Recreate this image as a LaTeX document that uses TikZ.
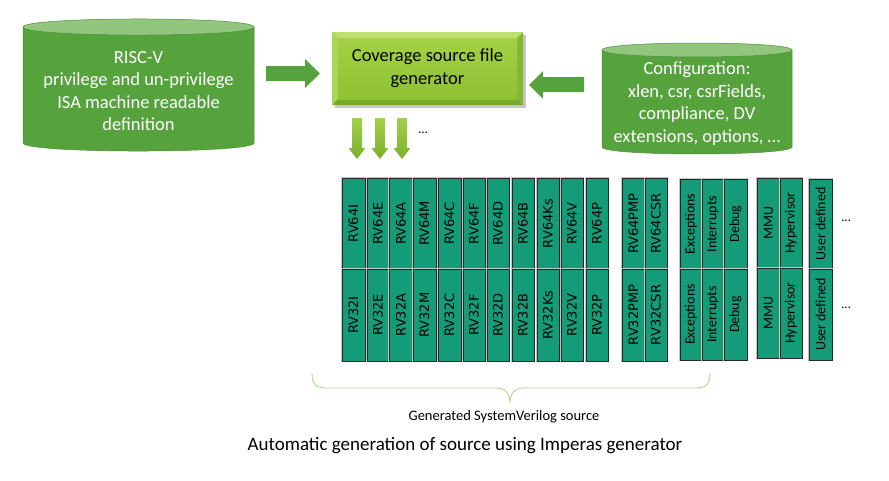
\documentclass[tikz,border=0pt]{standalone}
\usepackage{fontspec}
\setmainfont{Carlito}
\newfontfamily\dejavu{DejaVu Sans}
\definecolor{cylbody}{HTML}{56A33E}
\definecolor{cyltop}{HTML}{92C57E}
\definecolor{cyledge}{HTML}{4A9036}
\definecolor{arrgreen}{HTML}{56A33E}
\definecolor{teal}{HTML}{149C78}
\definecolor{bevtop}{HTML}{BFE070}
\definecolor{bevleft}{HTML}{AAD651}
\definecolor{bevbot}{HTML}{78A828}
\definecolor{bevright}{HTML}{86B632}
\definecolor{facetop}{HTML}{A4D145}
\definecolor{facebot}{HTML}{8EC133}
\definecolor{darrtop}{HTML}{A2D14A}
\definecolor{darrbot}{HTML}{7AAF2E}
\definecolor{bracec}{HTML}{A9D18E}
\tikzset{
  cyltext/.style={text=white, align=center, font=\fontsize{18.5}{22.5}\selectfont},
  gentext/.style={text=black, align=center, font=\fontsize{18.5}{23}\selectfont},
  cell/.style={rotate=90, fill=teal, draw=black!85, line width=0.8pt,
    preaction={draw=gray!45, line width=2.6pt}, inner sep=0pt, text=black},
  rvfont/.style={font=\dejavu\fontsize{13}{13}\selectfont},
  cbfont/.style={font=\fontsize{14}{14}\selectfont},
  blockarrow/.style={fill=arrgreen},
  downarrow/.style={top color=darrtop, bottom color=darrbot, draw=none},
}
\begin{document}
\begin{tikzpicture}[x=1pt,y=-1pt]
\useasboundingbox (0,0) rectangle (889,480);
\fill[white] (0,0) rectangle (889,480);

% left cylinder
\fill[cylbody, draw=cyledge, line width=0.5pt] (23,27) -- (23,143) .. controls (23,153.7) and (254,153.7) .. (254,143) -- (254,27) -- cycle;
\fill[cyltop, draw=cyledge, line width=0.5pt] (23,27) .. controls (23,16.3) and (254,16.3) .. (254,27) .. controls (254,37.7) and (23,37.7) .. (23,27) -- cycle;
\node[cyltext] (isa) at (138.5,91) {RISC-V\\privilege and un-privilege\\ISA machine readable\\definition};

% right cylinder
\fill[cylbody, draw=cyledge, line width=0.5pt] (602,50) -- (602,147) .. controls (602,156.3) and (792,156.3) .. (792,147) -- (792,50) -- cycle;
\fill[cyltop, draw=cyledge, line width=0.5pt] (602,50) .. controls (602,40.7) and (792,40.7) .. (792,50) .. controls (792,59.3) and (602,59.3) .. (602,50) -- cycle;
\node[cyltext] (cfg) at (697,103.5) {Configuration:\\xlen, csr, csrFields,\\compliance, DV\\extensions, options, \dots};

% generator box (bevelled)
\fill[black!22] (335,35) rectangle (526,108);
\fill[bevtop] (332,32) -- (523,32) -- (517,38) -- (338,38) -- cycle;
\fill[bevleft] (332,32) -- (338,38) -- (338,99) -- (332,105) -- cycle;
\fill[bevbot] (332,105) -- (338,99) -- (517,99) -- (523,105) -- cycle;
\fill[bevright] (523,32) -- (523,105) -- (517,99) -- (517,38) -- cycle;
\shade[top color=facetop, bottom color=facebot] (338,38) rectangle (517,99);
\node[gentext] (gen) at (427.5,68.5) {Coverage source file\\generator};

% block arrows
\fill[blockarrow] (266,66) -- (305,66) -- (305,59) -- (320,73.5) -- (305,88) -- (305,81) -- (266,81) -- cycle;
\fill[blockarrow] (584,77) -- (543,77) -- (543,71) -- (529,85) -- (543,99) -- (543,92) -- (584,92) -- cycle;

% down arrows
\foreach \cx in {357,380,402}{
  \shade[downarrow] (\cx-5,118) -- (\cx+5,118) -- (\cx+5,148) -- (\cx+8.5,148) -- (\cx,159) -- (\cx-8.5,148) -- (\cx-5,148) -- cycle;
}
\node[font=\fontsize{13}{13}\selectfont] (dots0) at (423,133) {\dots};

% RV cells
\foreach \s/\xa/\xb in {I/342/365, E/367/389, A/389/413, M/413/436, C/438/461, F/463/485, D/487/509, B/512/534, Ks/537/559, V/561/583, P/586/608, PMP/622/645, CSR/645/667}{
  \node[cell, rvfont, minimum width=91pt, minimum height={(\xb-\xa)*1pt}] (t\s) at ({(\xa+\xb)/2},223.5) {RV64\s};
  \node[cell, rvfont, minimum width=92pt, minimum height={(\xb-\xa)*1pt}] (b\s) at ({(\xa+\xb)/2},315) {RV32\s};
}
% other cells
\foreach \nm/\s/\xa/\xb/\ya/\ym/\yb in {ex/Exceptions/680/702/179/269/360, in/Interrupts/702/724/179/269/360, db/Debug/724/747/179/269/360, mm/MMU/757/780/178/268/358, hv/Hypervisor/780/802/178/268/358, ud/User defined/809/832/179/269/360}{
  \node[cell, cbfont, minimum width={(\ym-\ya)*1pt}, minimum height={(\xb-\xa)*1pt}] (t\nm) at ({(\xa+\xb)/2},{(\ya+\ym)/2}) {\s};
  \node[cell, cbfont, minimum width={(\yb-\ym)*1pt}, minimum height={(\xb-\xa)*1pt}] (b\nm) at ({(\xa+\xb)/2},{(\ym+\yb)/2}) {\s};
}
\node[font=\fontsize{13}{13}\selectfont] (dots1) at (846,221) {\dots};
\node[font=\fontsize{13}{13}\selectfont] (dots2) at (846,308) {\dots};

% brace
\draw[bracec, line width=0.8pt] (312,373) .. controls (312,384) and (316,388) .. (326,388) -- (496,388) .. controls (506,388) and (510,394) .. (510,403) .. controls (510,394) and (514,388) .. (524,388) -- (696,388) .. controls (706,388) and (710,384) .. (710,373);
\node[font=\fontsize{14.5}{14.5}\selectfont, text=black] (svsrc) at (504,417) {Generated SystemVerilog source};
\node[font=\fontsize{19}{19}\selectfont, text=black] (title) at (465,446) {Automatic generation of source using Imperas generator};
\end{tikzpicture}
\end{document}
